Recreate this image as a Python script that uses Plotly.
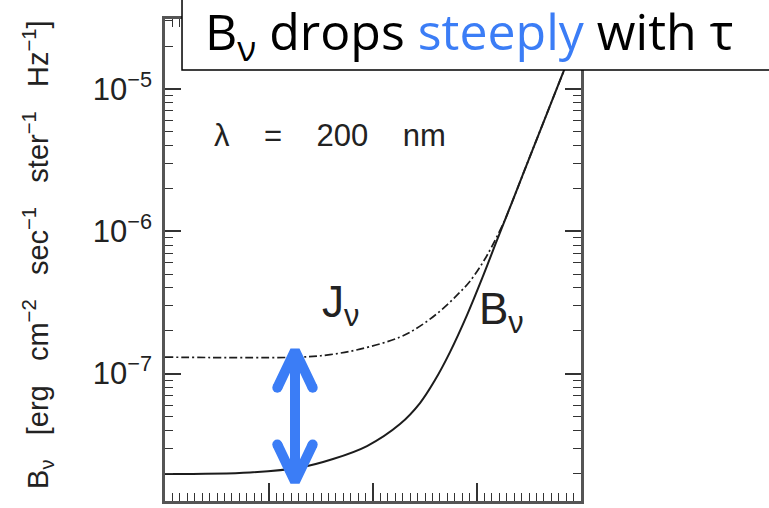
import numpy as np
import plotly.graph_objects as go

# Position along the atmosphere (arbitrary linear units; no labels shown)
x_B = [0.0, 0.8173, 1.2981, 1.6154, 1.9423, 2.2596, 2.4519, 2.5962, 2.7404,
       2.9038, 3.0577, 3.1923, 3.3365, 3.5096, 3.6731, 3.8173, 4.0]
logB = [-7.7053, -7.6947, -7.6596, -7.6, -7.5088, -7.3544, -7.207, -7.0456,
        -6.8491, -6.5895, -6.3158, -6.0632, -5.7965, -5.4737, -5.1719, -4.9053, -4.5684]

x_J = [0.0, 1.2981, 1.5865, 1.875, 2.2596, 2.4519, 2.6442, 2.8077, 2.9327,
       3.0577, 3.1442, 3.2692, 3.3365, 3.5096, 3.6731, 3.8173, 4.0]
logJ = [-6.8842, -6.8842, -6.8667, -6.8281, -6.7439, -6.6667, -6.5614, -6.4491,
        -6.3509, -6.2175, -6.1053, -5.9193, -5.7965, -5.4737, -5.1719, -4.9053, -4.5684]

B_nu = [10 ** v for v in logB]
J_nu = [10 ** v for v in logJ]

# double arrow marking the gap between J and B
arrow_x = 1.25
BLUE = "#3b7df6"
INK = "#1c1c1c"
NB = "\u00a0"

fig = go.Figure()

fig.add_trace(go.Scatter(x=x_J, y=J_nu, mode="lines", line_shape="spline",
                         line=dict(color=INK, width=1.7, dash="8px,3px,2px,3px")))
fig.add_trace(go.Scatter(x=x_B, y=B_nu, mode="lines", line_shape="spline",
                         line=dict(color=INK, width=2)))

jl = float(np.interp(arrow_x, x_J, logJ)) + 0.045
bl = float(np.interp(arrow_x, x_B, logB)) - 0.095
hx, hy = 0.17, 0.26
ax_x = [arrow_x - hx, arrow_x, arrow_x + hx, None,
        arrow_x - hx, arrow_x, arrow_x + hx, None,
        arrow_x, arrow_x]
ax_y = [10 ** (jl - hy), 10 ** jl, 10 ** (jl - hy), None,
        10 ** (bl + hy), 10 ** bl, 10 ** (bl + hy), None,
        10 ** jl, 10 ** bl]
fig.add_trace(go.Scatter(x=ax_x, y=ax_y, mode="lines", connectgaps=False,
                         line=dict(color=BLUE, width=10)))
fig.add_trace(go.Scatter(x=[arrow_x - hx, arrow_x + hx, arrow_x - hx, arrow_x + hx],
                         y=[10 ** (jl - hy), 10 ** (jl - hy), 10 ** (bl + hy), 10 ** (bl + hy)],
                         mode="markers", marker=dict(color=BLUE, size=10)))

axis_common = dict(showline=True, linecolor="#555", linewidth=2.5, mirror="ticks",
                   ticks="inside", tickcolor="#333", tickwidth=1.6,
                   showgrid=False, zeroline=False)

# y tick labels: powers of ten
y_tick_exp = [-7, -6, -5]
y_tick_vals = [10.0 ** e for e in y_tick_exp]
y_tick_text = [f"10<sup>−{abs(e)}</sup>" for e in y_tick_exp]

fig.update_xaxes(range=[0, 4], dtick=1, ticklen=18, showticklabels=False,
                 minor=dict(dtick=1 / 14, ticks="inside", ticklen=8, tickwidth=1.4,
                            tickcolor="#333", showgrid=False),
                 **axis_common)
fig.update_yaxes(type="log", range=[-7.895, -4.509],
                 tickmode="array", tickvals=y_tick_vals, ticktext=y_tick_text,
                 ticklen=16,
                 tickfont=dict(family="Liberation Sans", size=31, color="#222"),
                 ticklabelstandoff=4,
                 minor=dict(dtick="D1", ticks="inside", ticklen=8, tickwidth=1.4,
                            tickcolor="#333", showgrid=False),
                 **axis_common)

G = NB * 3
ytitle = (f"B<sub>ν</sub>{G}[erg{G}cm<sup>−2</sup>{G}sec<sup>−1</sup>"
          f"{G}ster<sup>−1</sup>{G}Hz<sup>−1</sup>]")
G4 = NB * 4

annotations = [
    dict(text=ytitle, xref="paper", yref="paper", x=-0.306, y=0.51, textangle=-90,
         showarrow=False, xanchor="center", yanchor="middle",
         font=dict(family="Liberation Sans", size=29, color="#222")),
    dict(text=f"λ{G4}={G4}200{G4}nm", xref="x", yref="y", x=1.587, y=-5.326,
         showarrow=False, xanchor="center", yanchor="middle",
         font=dict(family="Liberation Sans", size=31, color="#222")),
    dict(text="J<sub>ν</sub>", xref="x", yref="y", x=1.49, y=-6.519,
         showarrow=False, xanchor="left", yanchor="middle",
         font=dict(family="Liberation Sans", size=44, color="#222")),
    dict(text="B<sub>ν</sub>", xref="x", yref="y", x=3.0, y=-6.569,
         showarrow=False, xanchor="left", yanchor="middle",
         font=dict(family="Liberation Sans", size=44, color="#222")),
    dict(text=f"B<sub>ν</sub> drops <span style='color:{BLUE}'>steeply</span> with τ",
         xref="paper", yref="paper", x=0.0913, y=0.968, showarrow=False,
         xanchor="left", yanchor="middle",
         font=dict(family="'Open Sans', Lato, sans-serif", size=50, color="black")),
]

fig.update_layout(
    width=769, height=508,
    margin=dict(l=165, r=188, t=19, b=7),
    paper_bgcolor="white", plot_bgcolor="white",
    showlegend=False, hovermode=False,
    annotations=annotations,
    shapes=[dict(type="rect", xref="paper", yref="paper",
                 x0=0.0409, x1=1.466, y0=0.894, y1=1.05,
                 fillcolor="white", line=dict(color="black", width=1.5), layer="above")],
)

fig.write_html("out.html", include_plotlyjs=True, config={"displayModeBar": False})
